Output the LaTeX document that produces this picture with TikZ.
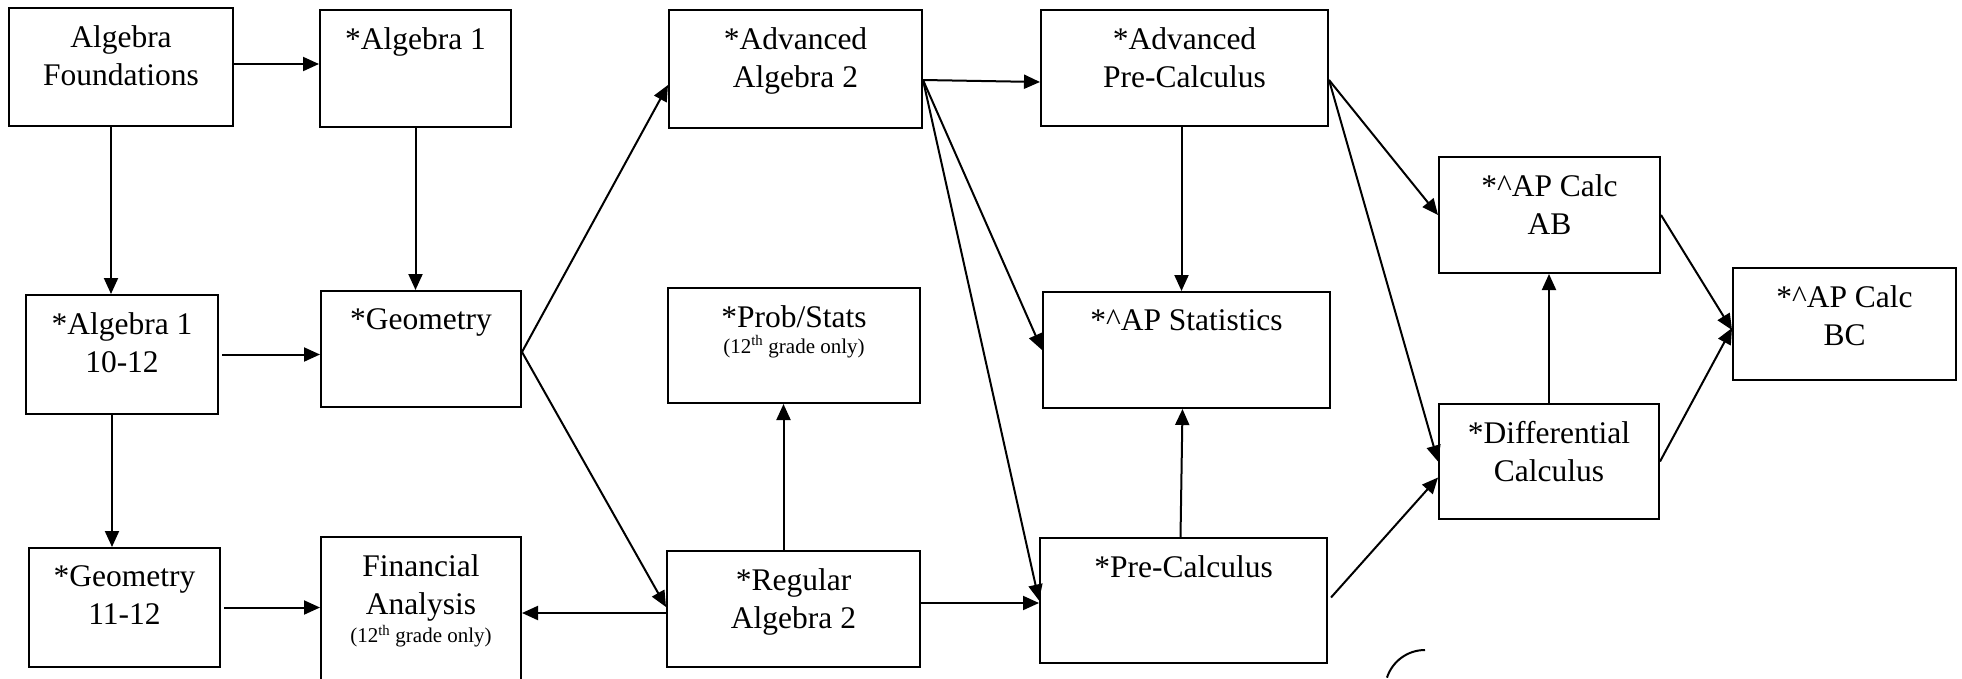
\documentclass[tikz,border=0pt]{standalone}
\usepackage{fontspec}
\setmainfont{Liberation Serif}
\usetikzlibrary{arrows.meta}
\tikzset{
  box/.style={draw, line width=2pt, inner sep=0pt},
  txt/.style={align=center, inner sep=0pt, font=\fontsize{31.5}{37.7}\selectfont},
  arr/.style={line width=2pt, -{Triangle[length=16pt,width=14pt]}},
}
\newcommand\smallnote{\fontsize{21}{24}\selectfont}
\newcommand\coursebox[6]{%
  \node[box, minimum width={(#4-#2)*1pt}, minimum height={(#5-#3)*1pt}] (#1) at ({(#2+#4)/2},{(#3+#5)/2}) {};
  \node[txt, anchor=north] (#1t) at ([yshift=-18.5pt]#1.north) {#6};
}
\begin{document}
\begin{tikzpicture}[x=1pt,y=-1pt]
\fill[white] (0,0) rectangle (1962,678);
\clip (0,0) rectangle (1962,678);
\coursebox{af}{9}{8}{233}{126}{Algebra\\Foundations}
\coursebox{a1}{320}{10}{511}{127}{*Algebra 1}
\coursebox{aa2}{669}{10}{922}{128}{*Advanced\\Algebra 2}
\coursebox{apc}{1041}{10}{1328}{126}{*Advanced\\Pre-Calculus}
\coursebox{ab}{1439}{157}{1660}{273}{*\textasciicircum AP Calc\\AB}
\coursebox{bc}{1733}{268}{1956}{380}{*\textasciicircum AP Calc\\BC}
\coursebox{a110}{26}{295}{218}{414}{*Algebra 1\\10-12}
\coursebox{geo}{321}{291}{521}{407}{*Geometry}
\coursebox{ps}{668}{288}{920}{403}{*Prob/Stats\\[-12pt]{\smallnote (12\textsuperscript{th} grade only)}}
\coursebox{aps}{1043}{292}{1330}{408}{*\textasciicircum AP Statistics}
\coursebox{dc}{1439}{404}{1659}{519}{*Differential\\Calculus}
\coursebox{gg}{29}{548}{220}{667}{*Geometry\\11-12}
\coursebox{fa}{321}{537}{521}{690}{Financial\\Analysis\\[-9pt]{\smallnote (12\textsuperscript{th} grade only)}}
\coursebox{ra}{667}{551}{920}{667}{*Regular\\Algebra 2}
\coursebox{pc}{1040}{538}{1327}{663}{*Pre-Calculus}

\draw[arr] ([yshift=3pt]af.east) -- ([yshift=3pt]af.east -| a1.west);
\draw[arr] ([xshift=-10pt]af.south) -- ([xshift=-10pt]af.south |- a110.north);
\draw[arr] (a1.south) -- (a1.south |- geo.north);
\draw[arr] ([xshift=3pt]a110.east) -- (a110.east -| geo.west);
\draw[arr] ([xshift=-10pt]a110.south) -- ([xshift=-10pt]a110.south |- gg.north);
\draw[arr] ([xshift=3pt]gg.east) -- (gg.east -| fa.west);
\draw[arr] ([yshift=-3pt]geo.east) -- ([yshift=-16pt]aa2.west);
\draw[arr] ([yshift=-3pt]geo.east) -- ([yshift=2pt]ra.west);
\draw[arr] ([yshift=-4pt]ra.west) -- ([yshift=-4pt]ra.west -| fa.east);
\draw[arr] ([xshift=-10pt]ra.north) -- ([xshift=-10pt]ra.north |- ps.south);
\draw[arr] ([yshift=6pt]ra.east) -- ([yshift=6pt]ra.east -| pc.west);
\draw[arr] ([yshift=-11pt]aa2.east) -- ([yshift=-14pt]apc.west);
\draw[arr] ([yshift=-11pt]aa2.east) -- (aps.west);
\draw[arr] ([yshift=-11pt]aa2.east) -- (pc.west);
\draw[arr] ([xshift=-3pt]apc.south) -- ([xshift=-3pt]apc.south |- aps.north);
\draw[arr] ([xshift=-3pt]pc.north) -- ([xshift=-1pt]pc.north |- aps.south);
\draw[arr] ([yshift=-12pt]apc.east) -- (ab.west);
\draw[arr] ([yshift=-12pt]apc.east) -- (dc.west);
\draw[arr] ([xshift=3pt,yshift=3pt]pc.east) -- ([yshift=-16pt]dc.west);
\draw[arr] (dc.north) -- (dc.north |- ab.south);
\draw[arr] (ab.east) -- ([yshift=-6pt]bc.west);
\draw[arr] (dc.east) -- ([yshift=-4pt]bc.west);
\draw[line width=2pt] (1425,650) arc[start angle=270, end angle=198, radius=40];
\end{tikzpicture}
\end{document}
